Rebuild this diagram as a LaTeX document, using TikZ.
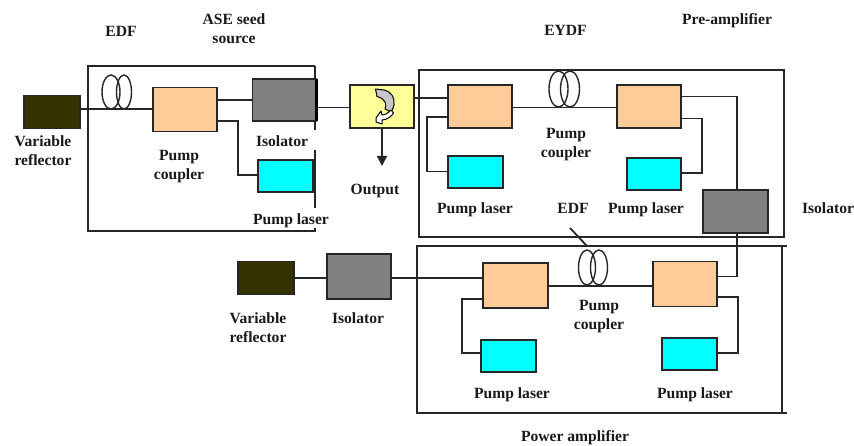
\documentclass[tikz,border=0pt]{standalone}
\usepackage{fontspec}
\setmainfont{Liberation Serif}
\usetikzlibrary{arrows.meta,shapes.geometric}
\definecolor{darkrefl}{HTML}{333300}
\definecolor{isogray}{HTML}{808080}
\definecolor{coupl}{HTML}{FFCC99}
\definecolor{circ}{HTML}{FFFF99}
\definecolor{lasercyan}{HTML}{00FFFF}
\definecolor{lineink}{HTML}{262626}
\tikzset{
  unit/.style={draw=lineink,line width=1.5pt,inner sep=0pt,outer sep=0pt},
  refl/.style={unit,fill=darkrefl,minimum width=56pt,minimum height=33pt},
  iso/.style={unit,fill=isogray,minimum width=64pt,minimum height=44pt},
  coupler/.style={unit,fill=coupl,minimum width=64pt,minimum height=44pt},
  laser/.style={unit,fill=lasercyan,minimum width=55pt,minimum height=32pt},
  circulator/.style={unit,fill=circ,minimum width=64pt,minimum height=43pt},
  wire/.style={draw=lineink,line width=1.6pt},
  frame/.style={draw=lineink,line width=1.5pt},
  coil/.style={draw=lineink,line width=1.4pt,ellipse,inner sep=0pt,outer sep=0pt},
  lab/.style={font=\bfseries\fontsize{15.6}{19}\selectfont,align=center,inner sep=0pt,text=black!90}
}
\begin{document}
\begin{tikzpicture}[x=1pt,y=-1pt]
\useasboundingbox (0,0) rectangle (854,446);
% frames
\draw[frame] (315,66) -- (88,66) -- (88,231) -- (315,231) -- (315,228);
\draw[frame] (315,66) -- (315,130);
\draw[frame] (315,150) -- (315,208);
\draw[frame] (419,70) rectangle (784,237);
\draw[frame] (787,246) -- (417,246) -- (417,413) -- (787,413);
\draw[frame] (782,246) -- (782,413);
% coils
\node[coil,minimum width=18pt,minimum height=34pt] (e1a) at (111,92) {};
\node[coil,minimum width=15pt,minimum height=34pt] (e1b) at (124,92) {};
\node[coil,minimum width=19pt,minimum height=36pt] (e2a) at (558.5,89) {};
\node[coil,minimum width=19pt,minimum height=36pt] (e2b) at (570,89) {};
\node[coil,minimum width=17pt,minimum height=35pt] (e3a) at (587,267.5) {};
\node[coil,minimum width=17pt,minimum height=35pt] (e3b) at (599,267.5) {};
% units
\node[refl] (vr1) at (52,112) {};
\node[coupler] (c1) at (185,109.5) {};
\node[iso,minimum height=42pt] (iso1) at (284.5,100) {};
\node[laser] (pl1) at (285.5,176) {};
\node[circulator] (cir) at (382,106.5) {};
\node[coupler,minimum height=43pt] (c2) at (480,106.5) {};
\node[coupler,minimum height=43pt] (c3) at (649,106.5) {};
\node[laser] (pl2) at (475.5,172) {};
\node[laser,minimum width=54pt] (pl3) at (654,174) {};
\node[iso,minimum width=65pt,minimum height=43pt] (iso3) at (735.5,211.5) {};
\node[refl] (vr2) at (266,278) {};
\node[iso,minimum height=45pt] (iso2) at (359,276.5) {};
\node[coupler,minimum width=65pt,minimum height=45pt] (c4) at (515.5,285.5) {};
\node[coupler,minimum height=45pt] (c5) at (685,284) {};
\node[laser] (pl4) at (508.5,356) {};
\node[laser] (pl5) at (689.5,354) {};
% thick side of the first isolator
\draw[line width=2.6pt,black] (iso1.north east) -- (iso1.south east);
% connectors, first stage
\draw[wire] (vr1.east |- 0,109) -- (c1.west |- 0,109);
\draw[wire] (c1.east |- 0,100) -- (iso1.west |- 0,100);
\draw[wire] (c1.east |- 0,121) -| (238,175) -- (pl1.west |- 0,175);
\draw[wire] (iso1.east |- 0,107.5) -- (cir.west |- 0,107.5);
\draw[wire] (cir.east |- 0,98) -- (c2.west |- 0,98);
\coordinate (outtip) at (382,166);
\draw[wire,-{Triangle[length=10pt,width=10pt]}] (cir.south) -- (outtip);
% connectors, pre-amplifier
\draw[wire] (c2.east |- 0,107.5) -- (c3.west |- 0,107.5);
\draw[wire] (c2.west |- 0,117) -| (427,171.5) -- (pl2.west |- 0,171.5);
\draw[wire] (c3.east |- 0,118.5) -| (702,173) -- (pl3.east |- 0,173);
\draw[wire] (c3.east |- 0,96.5) -| (737,190) -- (iso3.north -| 737,0);
% connectors, power amplifier
\draw[wire] (iso3.south -| 737,0) -- (737,276.5) -- (c5.east |- 0,276.5);
\draw[wire] (vr2.east) -- (iso2.west |- vr2.east);
\draw[wire] (iso2.east |- 0,278) -- (c4.west |- 0,278);
\draw[wire] (c4.east |- 0,286) -- (c5.west |- 0,286);
\draw[wire] (c4.west |- 0,299) -| (462,353) -- (pl4.west |- 0,353);
\draw[wire] (c5.east |- 0,297) -| (738,353) -- (pl5.east |- 0,353);
% EDF pointer
\coordinate (edftick) at (570,228);
\draw[wire,line width=1.8pt] (edftick) -- (587,246);
% circulator symbol
\draw[draw=black,line width=1pt,fill=gray!45,line join=round]
  (375.5,89) -- (384,90) .. controls (392,92) and (395,98) .. (394,105)
  .. controls (393.5,108) and (392,110) .. (391,112) -- (385,109)
  .. controls (387,105) and (386,99) .. (377,96.5) -- cycle;
\draw[draw=black,line width=1pt,fill=white,line join=round]
  (391,110) -- (393.5,113) .. controls (392,116) and (387,120) .. (382,120)
  -- (382,124) -- (376,122) -- (376,118) -- (381,111) -- (382,115)
  .. controls (385,115) and (388,113) .. (391,110) -- cycle;
% labels
\node[lab] (t1) at (121,31) {EDF};
\node[lab] (t2) at (234,28.5) {ASE seed\\source};
\node[lab] (t3) at (43,150.5) {Variable\\reflector};
\node[lab] (t4) at (179,166.5) {Pump\\coupler};
\node[lab] (t5) at (282,141) {Isolator};
\node[lab] (t6) at (291,220.5) {Pump laser};
\node[lab] (t7) at (375,190.5) {Output};
\node[lab] (t8) at (565.5,30) {EYDF};
\node[lab] (t9) at (727,21) {Pre-amplifier};
\node[lab] (t10) at (566,144.5) {Pump\\coupler};
\node[lab] (t11) at (475,209.5) {Pump laser};
\node[lab] (t12) at (573,208) {EDF};
\node[lab] (t13) at (646,209.5) {Pump laser};
\node[lab] (t14) at (828,208) {Isolator};
\node[lab] (t15) at (258,327.5) {Variable\\reflector};
\node[lab] (t16) at (358,318) {Isolator};
\node[lab] (t17) at (599,316.5) {Pump\\coupler};
\node[lab] (t18) at (512,394.5) {Pump laser};
\node[lab] (t19) at (695,394.5) {Pump laser};
\node[lab] (t20) at (575,438) {Power amplifier};
\end{tikzpicture}
\end{document}
